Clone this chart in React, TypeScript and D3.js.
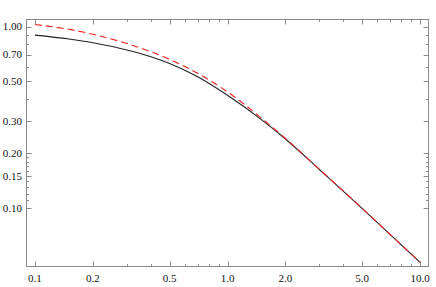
import * as d3 from 'd3'
import { useEffect, useRef } from 'react'

const width = 436, height = 287

// readings (log-log)
const xs = [0.1, 0.15, 0.2, 0.3, 0.4, 0.5, 0.7, 1, 1.5, 2, 3, 5, 7, 10]
const exact = [0.896, 0.853, 0.814, 0.743, 0.682, 0.626, 0.529, 0.418, 0.307, 0.240, 0.163, 0.0995, 0.0713, 0.0502]
const approx = [1.026, 0.965, 0.906, 0.806, 0.726, 0.660, 0.552, 0.436, 0.313, 0.2415, 0.1635, 0.0997, 0.0714, 0.0502]

const xMajor = [0.1, 0.2, 0.5, 1, 2, 5, 10]
const xMajorLabels = ['0.1', '0.2', '0.5', '1.0', '2.0', '5.0', '10.0']
const xMinor = [0.3, 0.4, 0.6, 0.7, 0.8, 0.9, 3, 4, 6, 7, 8, 9]
const yMajor = [0.1, 0.15, 0.2, 0.3, 0.5, 0.7, 1]
const yMajorLabels = ['0.10', '0.15', '0.20', '0.30', '0.50', '0.70', '1.00']
const yMinor = [0.11, 0.12, 0.13, 0.14, 0.16, 0.17, 0.18, 0.19, 0.4, 0.6, 0.8, 0.9]

const frame = { left: 26.5, right: 428.5, top: 19.5, bottom: 266.5 }

const chart = (svgNode: SVGSVGElement) => {
  const svg = d3.select(svgNode)
  svg.selectAll('*').remove()

  const x = d3.scaleLog().domain([0.0904, 11.06]).range([frame.left, frame.right])
  const y = d3.scaleLog().domain([0.0476, 1.093]).range([frame.bottom, frame.top])

  const frameColor = '#8a8a8a'
  const g = svg.append('g')

  const line = d3.line<number>()
    .x((d, i) => x(xs[i]))
    .curve(d3.curveMonotoneX)

  g.append('path')
    .attr('d', line.y(d => y(d))(exact))
    .attr('fill', 'none')
    .attr('stroke', '#222')
    .attr('stroke-width', 1.1)

  g.append('path')
    .attr('d', line.y(d => y(d))(approx))
    .attr('fill', 'none')
    .attr('stroke', '#f02020')
    .attr('stroke-width', 1.1)
    .attr('stroke-dasharray', '7,4')

  // frame
  g.append('rect')
    .attr('x', frame.left).attr('y', frame.top)
    .attr('width', frame.right - frame.left)
    .attr('height', frame.bottom - frame.top)
    .attr('fill', 'none')
    .attr('stroke', frameColor)

  const ticks = g.append('g').attr('stroke', frameColor).attr('stroke-width', 1)
  const xt = (v: number, len: number) => {
    const px = Math.round(x(v)) + 0.5
    ticks.append('line').attr('x1', px).attr('x2', px).attr('y1', frame.bottom).attr('y2', frame.bottom - len)
    ticks.append('line').attr('x1', px).attr('x2', px).attr('y1', frame.top).attr('y2', frame.top + len)
  }
  const yt = (v: number, len: number) => {
    const py = Math.round(y(v)) + 0.5
    ticks.append('line').attr('y1', py).attr('y2', py).attr('x1', frame.left).attr('x2', frame.left + len)
    ticks.append('line').attr('y1', py).attr('y2', py).attr('x1', frame.right).attr('x2', frame.right - len)
  }
  xMajor.forEach(v => xt(v, 5))
  xMinor.forEach(v => xt(v, 2.5))
  yMajor.forEach(v => yt(v, 5))
  yMinor.forEach(v => yt(v, 2.5))

  const labels = g.append('g')
    .style('font-family', "'Liberation Serif', 'Times New Roman', 'DejaVu Serif', serif")
    .style('font-size', '11px')
    .attr('fill', '#111')

  labels.selectAll('text.x')
    .data(xMajor)
    .join('text')
    .attr('class', 'x')
    .attr('x', d => x(d))
    .attr('y', 282)
    .attr('text-anchor', 'middle')
    .text((d, i) => xMajorLabels[i])

  labels.selectAll('text.y')
    .data(yMajor)
    .join('text')
    .attr('class', 'y')
    .attr('x', 22)
    .attr('y', d => y(d))
    .attr('dy', '0.35em')
    .attr('text-anchor', 'end')
    .text((d, i) => yMajorLabels[i])
}

export default function App() {
  const svg = useRef<SVGSVGElement>(null)
  useEffect(() => {
    if (svg.current) chart(svg.current)
  }, [])
  return (
    <svg ref={svg} width={width} height={height}
      style={{ position: 'absolute', left: 0, top: 0, background: '#fff' }} />
  )
}
